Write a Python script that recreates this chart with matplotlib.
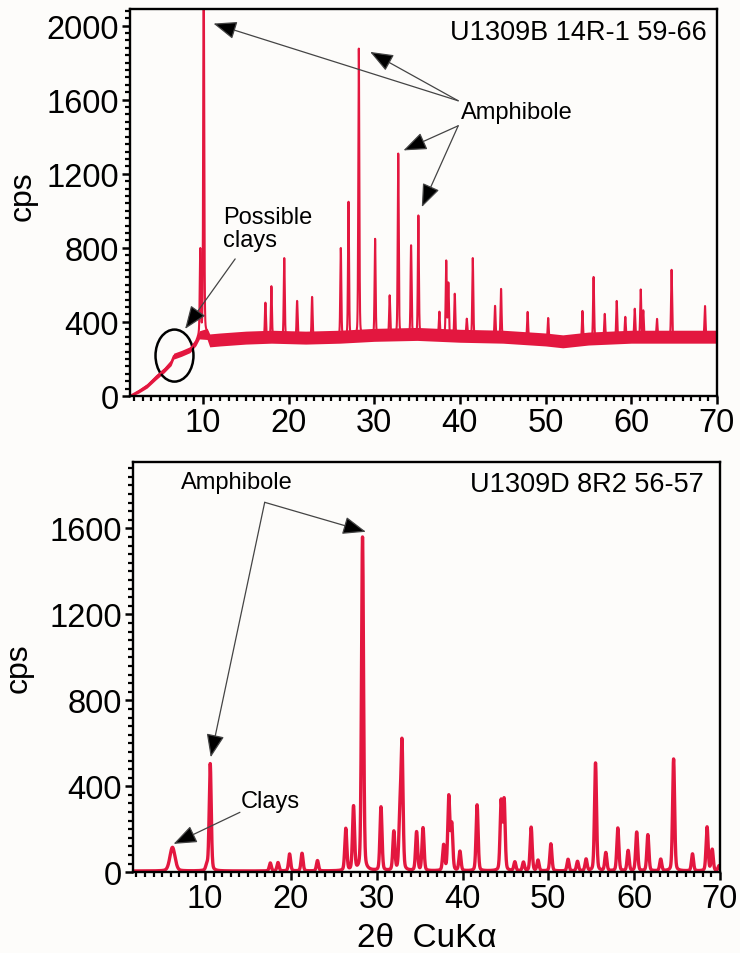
import numpy as np
import matplotlib.pyplot as plt
from matplotlib.patches import Ellipse
from matplotlib.ticker import MultipleLocator

plt.rcParams['font.family'] = ['Liberation Sans', 'DejaVu Sans']

# ---- upper pattern: U1309B 14R-1 59-66 ----
topBasePos = [1.5, 2.5, 3.5, 4.5, 5.5, 6.3, 6.6, 7.5, 8.5, 9.2, 9.6, 10.5, 10.8, 12, 15, 18, 22, 26, 30, 35, 40, 45, 50, 52, 55, 60, 65, 70]
topBaseCps = [0, 25, 55, 100, 140, 180, 215, 230, 250, 290, 330, 335, 300, 305, 315, 320, 315, 320, 330, 335, 325, 320, 305, 295, 310, 320, 320, 320]
topBandHalf = [5, 10, 12, 14, 14, 16, 16, 16, 16, 18, 22, 30, 35, 35, 35, 35, 35, 35, 35, 35, 35, 35, 35, 35, 35, 35, 35, 35]
topPeakPos = [9.7, 10.1, 17.3, 18.0, 19.5, 21.0, 22.75, 26.1, 27.0, 28.2, 30.1, 31.8, 32.8, 34.3, 35.15,
              37.6, 38.4, 38.65, 39.4, 40.8, 41.5, 44.1, 44.8, 47.9, 50.3, 54.3, 55.6, 56.9, 58.3, 59.3,
              60.4, 61.1, 61.4, 63.0, 64.7, 68.6]
topPeakCps = [785, 2300, 503, 592, 744, 513, 535, 798, 1047, 1875, 848, 542, 1308, 812, 975,
              454, 726, 605, 551, 416, 744, 486, 578, 454, 421, 459, 643, 443, 513, 427,
              470, 573, 459, 416, 681, 486]

# ---- lower pattern: U1309D 8R2 56-57 ----
botBaseCps = 6
botPeakPos = [6.2, 10.2, 10.6, 17.6, 18.5, 19.85, 21.3, 23.1, 26.4, 27.3, 28.35, 30.5, 32.0, 32.7, 32.95,
              34.65, 35.4, 37.8, 38.4, 38.75, 39.7, 41.7, 44.5, 44.85, 46.1, 47.1, 48.0, 48.8, 50.3,
              52.3, 53.4, 54.4, 55.5, 56.7, 58.1, 59.3, 60.3, 61.6, 63.1, 64.6, 66.8, 68.5, 69.1, 69.9]
botPeakCps = [116, 32, 505, 43, 45, 85, 88, 54, 201, 302, 1558, 302, 186, 240, 586,
              186, 205, 124, 349, 217, 96, 313, 326, 332, 47, 46, 209, 55, 132,
              60, 50, 60, 508, 90, 205, 100, 186, 174, 60, 527, 85, 210, 105, 30]
botPeakFwhm = [0.7] + [0.28] * (len(botPeakPos) - 1)

RED = '#e3173f'


def pseudoVoigt(x, center, amp, fwhm, eta=0.25):
    s = fwhm / 2.3548
    g = np.exp(-(x - center) ** 2 / (2 * s * s))
    l = 1.0 / (1.0 + ((x - center) / (fwhm / 2)) ** 2)
    return amp * ((1 - eta) * g + eta * l)


def styleAxis(ax, ymax, ytop):
    ax.set_facecolor('#fdfcfa')
    ax.set_ylim(0, ytop)
    ax.set_yticks(np.arange(0, ymax + 1, 400))
    ax.yaxis.set_minor_locator(MultipleLocator(40))
    ax.set_xticks(np.arange(10, 71, 10))
    ax.xaxis.set_minor_locator(MultipleLocator(1))
    ax.tick_params(which='major', direction='out', length=6, width=1.8, labelsize=23.5, pad=2)
    ax.tick_params(which='minor', direction='out', length=3.5, width=1.6)
    for sp in ax.spines.values():
        sp.set_linewidth(1.7)
    ax.set_ylabel('cps', fontsize=23)


def arrow(ax, tail, tip):
    ax.annotate('', xy=tip, xytext=tail,
                arrowprops=dict(arrowstyle='-|>,head_length=0.9,head_width=0.35',
                                facecolor='black', edgecolor='#444', lw=0.9,
                                shrinkA=0, shrinkB=0, mutation_scale=16))


fig = plt.figure(figsize=(7.4, 9.54), dpi=100, facecolor='#fdfcfa')
axTop = fig.add_axes([0.1757, 0.5839, 0.7932, 0.4057])
axBot = fig.add_axes([0.1797, 0.0846, 0.7932, 0.4304])

# upper panel
xTop = np.linspace(1.5, 70, 8000)
baseTop = np.interp(xTop, topBasePos, topBaseCps)
bandTop = np.interp(xTop, topBasePos, topBandHalf)
yTop = baseTop.copy()
for p, h in zip(topPeakPos, topPeakCps):
    amp = h - np.interp(p, topBasePos, topBaseCps)
    yTop += pseudoVoigt(xTop, p, amp, 0.14)
axTop.fill_between(xTop, baseTop - bandTop, baseTop + bandTop, color=RED, lw=0)
axTop.plot(xTop, yTop, color=RED, lw=1.5)
axTop.set_xlim(1.5, 70)
styleAxis(axTop, 2000, 2090)
axTop.yaxis.set_label_coords(-0.158, 0.52)

axTop.text(0.983, 0.9406, 'U1309B 14R-1 59-66', transform=axTop.transAxes,
           ha='right', va='center', fontsize=19.5)
axTop.text(40.1, 1533, 'Amphibole', ha='left', va='center', fontsize=17)
arrow(axTop, (39.8, 1594), (11.24, 2011))
arrow(axTop, (39.8, 1594), (29.52, 1858))
arrow(axTop, (39.8, 1459), (33.41, 1326))
arrow(axTop, (39.8, 1459), (35.55, 1020))
axTop.text(12.33, 903, 'Possible\nclays', ha='left', va='center', fontsize=17,
           linespacing=1.05)
arrow(axTop, (13.77, 740), (7.93, 362))
axTop.add_patch(Ellipse((6.69, 218), width=4.43, height=281, fill=False,
                        edgecolor='black', lw=1.8))

# lower panel
xBot = np.linspace(1.6, 70, 8000)
yBot = np.full_like(xBot, botBaseCps, dtype=float)
for p, h, w in zip(botPeakPos, botPeakCps, botPeakFwhm):
    yBot += pseudoVoigt(xBot, p, h - botBaseCps, w)
axBot.plot(xBot, yBot, color=RED, lw=2.4)
axBot.set_xlim(1.6, 70)
styleAxis(axBot, 1600, 1910)
axBot.yaxis.set_label_coords(-0.170, 0.5)
axBot.set_xlabel('2θ  CuKα', fontsize=24)
axBot.xaxis.set_label_coords(0.5, -0.158)
axBot.xaxis.label.set_va('center')

axBot.text(0.9716, 0.9457, 'U1309D 8R2 56-57', transform=axBot.transAxes,
           ha='right', va='center', fontsize=19.5)
axBot.text(7.22, 1814, 'Amphibole', ha='left', va='center', fontsize=17)
arrow(axBot, (16.95, 1721), (10.66, 535))
arrow(axBot, (16.95, 1721), (28.74, 1584))
axBot.text(14.14, 333, 'Clays', ha='left', va='center', fontsize=17)
arrow(axBot, (14.06, 279), (6.33, 132))

fig.savefig('out.png', dpi=100, facecolor=fig.get_facecolor())
